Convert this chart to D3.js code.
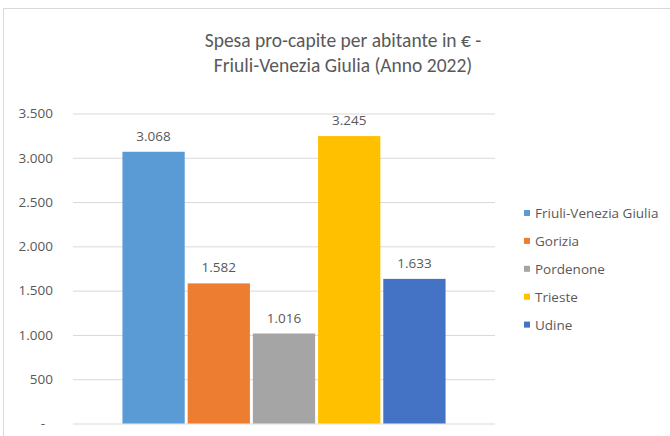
<!DOCTYPE html>
<html>
<head>
<meta charset="utf-8">
<script src="https://cdn.jsdelivr.net/npm/d3@7"></script>
<style>
  body { margin: 0; background: #fff; }
  text { font-family: "Open Sans", "Liberation Sans", sans-serif; fill: #595959; }
  .title { font-family: Carlito, Lato, "Liberation Sans", sans-serif; }
</style>
</head>
<body>
<div id="chart"></div>
<script>
// data
var cities = ["Friuli-Venezia Giulia", "Gorizia", "Pordenone", "Trieste", "Udine"];
var values = [3068, 1582, 1016, 3245, 1633];
var colors = ["#5B9BD5", "#ED7D31", "#A5A5A5", "#FFC000", "#4472C4"];
var yTicks = [0, 500, 1000, 1500, 2000, 2500, 3000, 3500];
var titleLines = ["Spesa pro-capite per abitante in €  -", "Friuli-Venezia Giulia (Anno 2022)"];

var W = 670, H = 436;

var svg = d3.select("#chart")
  .append("svg")
  .attr("width", W)
  .attr("height", H);

// chart border (right and bottom fall outside the picture)
svg.append("rect")
  .attr("x", 3.5).attr("y", 8.5)
  .attr("width", 700).attr("height", 500)
  .attr("fill", "none")
  .attr("stroke", "#d9d9d9");

// title
svg.append("g").selectAll("text")
  .data(titleLines)
  .join("text")
  .attr("class", "title")
  .attr("x", 343)
  .attr("y", (d, i) => 47 + i * 25)
  .attr("text-anchor", "middle")
  .style("font-size", "19.5px")
  .text(d => d);

// scales
var plot = { left: 73, right: 495, top: 113.5, bottom: 423.5 };

var y = d3.scaleLinear().domain([0, 3500]).range([plot.bottom, plot.top]);

var x0 = d3.scaleBand()
  .domain(["2022"])
  .range([plot.left, plot.right])
  .paddingOuter(0.153);

var x1 = d3.scaleBand()
  .domain(cities)
  .range([0, x0.bandwidth()])
  .paddingInner(0.045);

var fmt = d3.formatLocale({ decimal: ",", thousands: ".", grouping: [3], currency: ["€", ""] }).format(",d");

// gridlines
var yAxis = d3.axisLeft(y)
  .tickValues(yTicks)
  .tickSize(-(plot.right - plot.left))
  .tickPadding(20)
  .tickFormat(d => d === 0 ? "-" : fmt(d));

var gy = svg.append("g")
  .attr("class", "y-axis")
  .attr("transform", `translate(${plot.left}, 0)`)
  .call(yAxis);

gy.select(".domain").remove();
gy.selectAll(".tick line").attr("stroke", "#d9d9d9");
gy.selectAll(".tick text")
  .style("font-size", "13.5px")
  .style("font-family", "'Open Sans', sans-serif")
  .attr("fill", "#595959")
  .attr("dx", d => d === 0 ? -8 : 0);

// bars
var group = svg.append("g")
  .attr("transform", `translate(${x0("2022")}, 0)`);

group.selectAll(".bar")
  .data(values)
  .join("rect")
  .attr("class", "bar")
  .attr("x", (d, i) => x1(cities[i]))
  .attr("y", d => y(d))
  .attr("width", x1.bandwidth())
  .attr("height", d => y(0) - y(d))
  .attr("fill", (d, i) => colors[i]);

// value labels
group.selectAll(".label")
  .data(values)
  .join("text")
  .attr("class", "label")
  .attr("x", (d, i) => x1(cities[i]) + x1.bandwidth() / 2)
  .attr("y", d => y(d) - 11)
  .attr("text-anchor", "middle")
  .style("font-size", "13.5px")
  .text(d => fmt(d));

// legend
var legend = svg.append("g")
  .attr("transform", "translate(524, 213)")
  .selectAll("g")
  .data(cities)
  .join("g")
  .attr("transform", (d, i) => `translate(0, ${i * 27.9})`);

legend.append("rect")
  .attr("x", 0).attr("y", -3)
  .attr("width", 6).attr("height", 6)
  .attr("fill", (d, i) => colors[i]);

legend.append("text")
  .attr("x", 11)
  .attr("y", 5)
  .style("font-size", "13.5px")
  .text(d => d);
</script>
</body>
</html>
